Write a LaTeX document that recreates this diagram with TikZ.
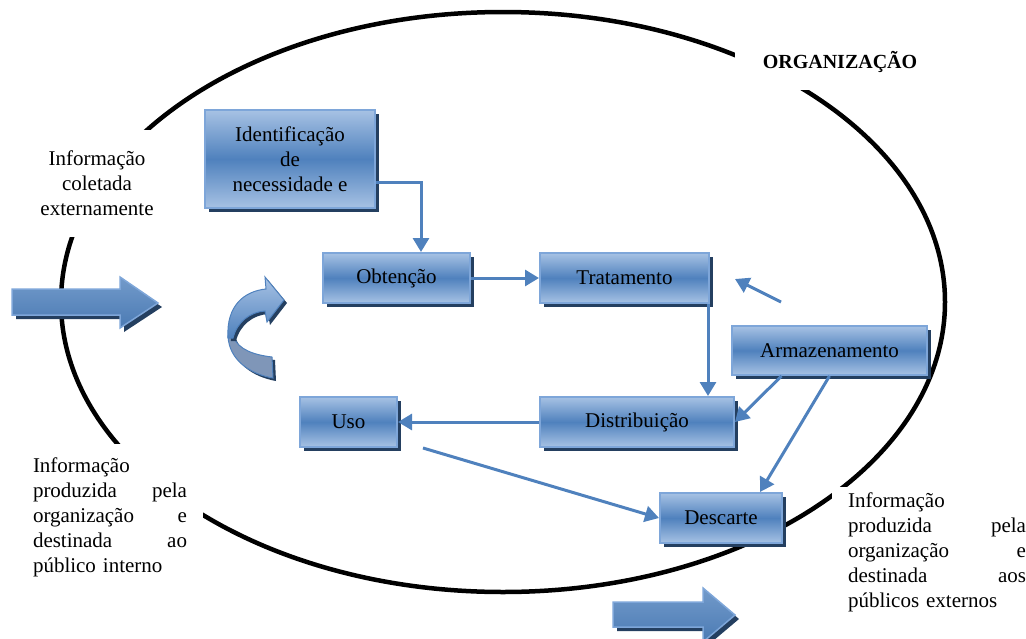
\documentclass[tikz,border=0pt]{standalone}
\usepackage{fontspec}
\setmainfont{Liberation Serif}
\usetikzlibrary{positioning,shadows,arrows.meta}

\definecolor{azul}{HTML}{4F81BD}
\definecolor{azulclaro}{HTML}{A7C2E4}
\definecolor{borda}{HTML}{7EA6D9}
\definecolor{sombra}{HTML}{243F60}
\definecolor{verso}{HTML}{7F96B8}

\tikzset{
  etapa/.style={draw=borda, line width=2pt, top color=azulclaro, bottom color=azulclaro, middle color=azul,
    general shadow={fill=sombra, shadow xshift=4pt, shadow yshift=-4pt}, inner sep=2pt},
  fluxo/.style={draw=azul, line width=3pt, -{Triangle[length=14pt,width=16pt]}},
  rotulo/.style={fill=white, inner sep=0pt},
  seta/.style={draw=borda, line width=1.5pt, top color=azul!80!white, bottom color=azul!95!black,
    general shadow={fill=sombra, shadow xshift=4pt, shadow yshift=-4pt}},
  curva/.style={draw=azul, line width=1pt, general shadow={fill=sombra, shadow xshift=3pt, shadow yshift=-3pt}}
}

\begin{document}
\begin{tikzpicture}[x=1pt,y=-1pt,font=\fontsize{21}{25}\selectfont]
                \useasboundingbox (0,0) rectangle (1026,638);
                \draw [line width=4.5pt] (503,302) ellipse [x radius=442, y radius=290];
                \node[rotulo, minimum width=145pt, minimum height=107pt, align=center] (coletada) at (97,183) {Informação\\coletada\\externamente};
                \node[rotulo, minimum width=210pt, minimum height=55pt, font=\fontsize{20}{24}\selectfont\bfseries] (org) at (840,62) {ORGANIZAÇÃO};
                \node[rotulo, text width=154pt, inner xsep=16pt, minimum height=147pt, align=left] (interno) at (110,517)
                  {Informação\\produzida\hfill pela\\organização\hfill e\\destinada\hfill ao\\público interno};
                \node[rotulo, text width=178pt, inner xsep=16pt, minimum height=130pt, align=left] (externo) at (937,552)
                  {Informação\\produzida\hfill pela\\organização\hfill e\\destinada\hfill aos\\públicos externos};

                \path[seta] (12,289) -- (120,289) -- (120,277) -- (158,303) -- (120,328) -- (120,315) -- (12,315) -- cycle;
                \path[seta] (613,602) -- (703,602) -- (703,588) -- (735,615) -- (703,642) -- (703,627) -- (613,627) -- cycle;
                \path[curva, fill=verso] (228,336) .. controls (229,360) and (250,374) .. (273,378) -- (272,357) .. controls (255,355) and (238,350) .. (233,336) -- cycle;
                \path[curva, top color=azulclaro, bottom color=azul] (228,338) .. controls (226,305) and (245,291) .. (266,289) -- (265,277) -- (284,300) -- (267,322) -- (265,311) .. controls (250,312) and (237,322) .. (233,338) -- cycle;

                \node[etapa, minimum width=170pt, minimum height=98pt, align=center] (ident) at (290,159) {Identificação\\de\\necessidade e};
                \node[etapa, minimum width=147pt, minimum height=50pt] (obt) at (396.5,278) {Obtenção};
                \node[etapa, minimum width=169pt, minimum height=50pt] (trat) at (624.5,278) {Tratamento};
                \node[etapa, minimum width=195pt, minimum height=49pt] (armaz) at (829.5,350.5) {Armazenamento};
                \node[etapa, minimum width=194pt, minimum height=50pt] (dist) at (637,422) {Distribuição};
                \node[etapa, minimum width=97pt, minimum height=50pt] (uso) at (348.5,422) {Uso};
                \node[etapa, minimum width=122pt, minimum height=50pt] (desc) at (721,518) {Descarte};

                \coordinate (voltaA) at (781,302);
                \coordinate (voltaB) at (735,279);
                \coordinate (usoBase) at ([xshift=25pt]uso.south east);

                \draw[fluxo] ([yshift=-23pt]ident.east) -| ([xshift=24.5pt]obt.north);
                \draw[fluxo] (obt) -- (trat);
                \draw[fluxo] ([xshift=-2pt]trat.south east) -- ([xshift=-2pt]trat.south east |- dist.north);
                \draw[fluxo] (voltaA) -- (voltaB);
                \draw[fluxo] ([xshift=-48pt]armaz.south) -- (dist.east);
                \draw[fluxo] (armaz.south) -- ([xshift=39pt]desc.north);
                \draw[fluxo] (dist) -- (uso);
                \draw[fluxo] (usoBase) -- (desc.west);
            \end{tikzpicture}
\end{document}
